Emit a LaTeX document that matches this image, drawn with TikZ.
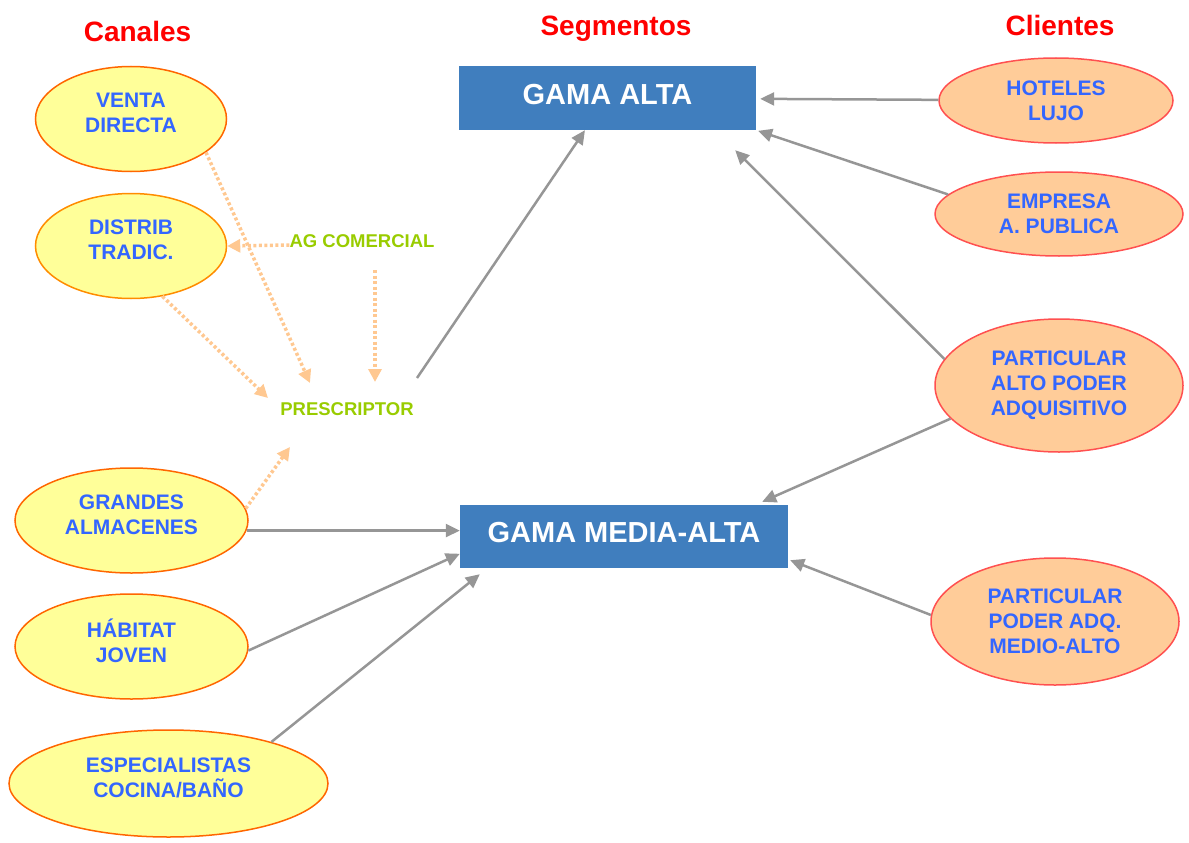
\documentclass[tikz,border=0pt]{standalone}
\usepackage{fontspec}
\setmainfont{Liberation Sans}
\usetikzlibrary{arrows.meta,positioning,calc,shapes.geometric}

\definecolor{azulcaja}{RGB}{64,126,190}
\definecolor{azultxt}{RGB}{51,102,255}
\definecolor{amarillo}{RGB}{255,255,153}
\definecolor{naranja}{RGB}{255,102,0}
\definecolor{salmon}{RGB}{255,204,153}
\definecolor{rojoborde}{RGB}{255,80,80}
\definecolor{grisflecha}{RGB}{150,150,150}
\definecolor{melocoton}{RGB}{255,200,145}
\definecolor{verdetxt}{RGB}{153,204,0}

\begin{document}
\begin{tikzpicture}[x=1pt,y=-1pt,
  canal/.style={ellipse,draw=naranja,line width=1.5pt,fill=amarillo,text=azultxt,
    font=\fontsize{21}{25}\selectfont\bfseries,align=center,inner sep=0pt,
    minimum width=191pt,minimum height=105pt},
  cliente/.style={canal,draw=rojoborde,fill=salmon},
  gama/.style={rectangle,fill=azulcaja,text=white,inner sep=0pt,text depth=8pt,
    font=\fontsize{29}{34}\selectfont\bfseries},
  titulo/.style={text=red,font=\fontsize{28}{34}\selectfont\bfseries},
  verde/.style={text=verdetxt,font=\fontsize{18.5}{22}\selectfont\bfseries,inner sep=0pt},
  flecha/.style={draw=grisflecha,line width=2.5pt,-{Triangle[length=14pt,width=13pt]}},
  punteada/.style={draw=melocoton,line width=3.5pt,dash pattern=on 3pt off 2.5pt,
    -{Triangle[length=13pt,width=13pt]}}]
  \useasboundingbox (0,0) rectangle (1189,843);

  % titulos
  \node[titulo] (tcan) at (137.5,31) {Canales};
  \node[titulo] (tseg) at (616,29) {Segmentos};
  \node[titulo] (tcli) at (1060,25) {Clientes};

  % segmentos
  \node[gama,minimum width=297pt,minimum height=64pt] (alta) at (607.5,98) {GAMA ALTA};
  \node[gama,minimum width=328pt,minimum height=63pt] (media) at (624,536.5) {GAMA MEDIA-ALTA};

  % canales
  \node[canal,text depth=12pt] (venta) at (131,119) {VENTA\\DIRECTA};
  \node[canal,text depth=12pt,draw=orange!90!yellow] (distrib) at (131,246) {DISTRIB\\TRADIC.};
  \node[canal,text depth=12pt,minimum width=233pt] (grandes) at (131.5,520.5) {GRANDES\\ALMACENES};
  \node[canal,text depth=12pt,minimum width=233pt] (habitat) at (131.5,646.5) {HÁBITAT\\JOVEN};
  \node[canal,text depth=12pt,minimum width=319pt,minimum height=107pt] (espec) at (168.5,783.5) {ESPECIALISTAS\\COCINA/BAÑO};

  \node[verde] (agcom) at (362,241) {AG COMERCIAL};
  \node[verde] (presc) at (347,409) {PRESCRIPTOR};

  % clientes
  \node[cliente,minimum width=234pt,minimum height=85pt] (hoteles) at (1056,100.5) {HOTELES\\LUJO};
  \node[cliente,minimum width=248pt,minimum height=84pt] (empresa) at (1059,214) {EMPRESA\\A. PUBLICA};
  \node[cliente,minimum width=248pt,minimum height=133pt] (palto) at (1059,385.5) {PARTICULAR\\ALTO PODER\\ADQUISITIVO};
  \node[cliente,minimum width=248pt,minimum height=127pt] (pmedio) at (1055,621.5) {PARTICULAR\\PODER ADQ.\\MEDIO-ALTO};

  % extremos libres
  \coordinate (p1) at ($(presc)+(-37,-26)$);
  \coordinate (p2) at ($(presc)+(-79,-11)$);
  \coordinate (p3) at ($(presc)+(28,-27)$);
  \coordinate (p4) at ($(presc)+(-57,38)$);
  \coordinate (p5) at ($(presc)+(70,-31)$);
  \coordinate (a1) at ($(agcom)+(13,29)$);
  \coordinate (s1) at ($(alta.south east)+(-21,20)$);
  \coordinate (s2) at ($(media.north east)+(-26,-3)$);
  \coordinate (s3) at ($(media.south east)+(2,-8)$);
  \coordinate (s4) at ($(media.south west)+(20,6)$);

  % flechas punteadas
  \draw[punteada] (venta.-24) -- (p1);
  \draw[punteada] (distrib.-58) -- (p2);
  \draw[punteada] ([yshift=-4pt]agcom.west) -- (distrib.east);
  \draw[punteada] (a1) -- (p3);
  \draw[punteada] (grandes.6) -- (p4);

  % flechas a segmentos
  \draw[flecha] (p5) -- (alta.-125);
  \draw[flecha,shorten >=4pt] (hoteles) -- (alta);
  \draw[flecha,shorten >=2pt] (empresa.170) -- (alta.south east);
  \draw[flecha] (palto.167) -- (s1);
  \draw[flecha] (palto.197) -- (s2);
  \draw[flecha] (pmedio.177) -- (s3);
  \draw[flecha] (grandes.-5) -- (grandes.-5 -| media.west);
  \draw[flecha] (habitat.-2) -- (media.-174);
  \draw[flecha] (espec.22) -- (s4);
\end{tikzpicture}
\end{document}
